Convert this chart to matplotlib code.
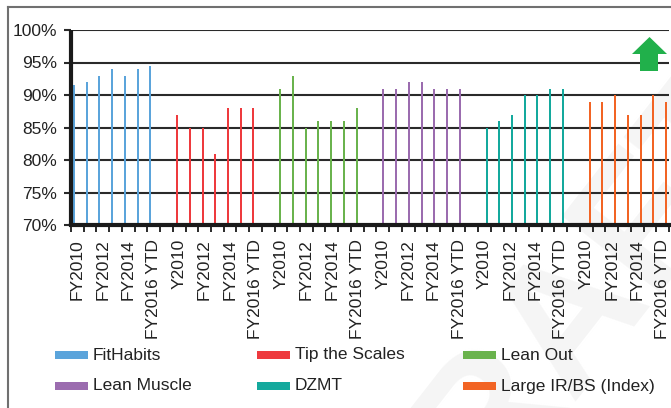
import matplotlib
matplotlib.use("Agg")
import matplotlib.pyplot as plt
from matplotlib import font_manager
from matplotlib.patches import Rectangle, Polygon
from matplotlib.lines import Line2D
import numpy as np

# ---------------- data ----------------
series_names = ["FitHabits", "Tip the Scales", "Lean Out", "Lean Muscle", "DZMT", "Large IR/BS (Index)"]
series_colors = ["#5BA4DB", "#EE3A3E", "#6AB34D", "#9B6CAF", "#14A99D", "#F26424"]
years_first = ["FY2010", "FY2011", "FY2012", "FY2013", "FY2014", "FY2015", "FY2016 YTD"]
years_other = ["Y2010", "FY2011", "FY2012", "FY2013", "FY2014", "FY2015", "FY2016 YTD"]

fithabits = [91.5, 92, 93, 94, 93, 94, 94.5]
tip_the_scales = [87, 85, 85, 81, 88, 88, 88]
lean_out = [91, 93, 85, 86, 86, 86, 88]
lean_muscle = [91, 91, 92, 92, 91, 91, 91]
dzmt = [85, 86, 87, 90, 90, 91, 91]
large_irbs = [89, 89, 90, 87, 87, 90, 89]
series_values = [fithabits, tip_the_scales, lean_out, lean_muscle, dzmt, large_irbs]

y_ticks = [70, 75, 80, 85, 90, 95, 100]

# ---------------- font ----------------
avail = {f.name for f in font_manager.fontManager.ttflist}
fam = "Liberation Sans Narrow" if "Liberation Sans Narrow" in avail else "Liberation Sans"
plt.rcParams["font.family"] = [fam, "DejaVu Sans"]
FS = 12.5 if fam == "Liberation Sans" else 14.5
TXT = "#222222"

W, H = 671, 408
fig = plt.figure(figsize=(W / 100, H / 100), dpi=100)
fig.patch.set_facecolor("white")

def fx(px):
    return px / W

def fy(py):
    return 1 - py / H

ax = fig.add_axes([fx(71), fy(225), fx(669) - fx(71), fy(30) - fy(225)])
ax.patch.set_alpha(0)
ax.set_zorder(2)

# faint watermark behind everything
fig.text(fx(560), fy(330), "DRAFT", rotation=52, fontsize=130, color="#f5f5f5",
         ha="center", va="center", zorder=-5, fontweight="bold")

# category layout
tick_labels = []
group_len = len(years_first)
n_groups = len(series_names)
for g in range(n_groups):
    tick_labels += years_first if g == 0 else years_other
    if g < n_groups - 1:
        tick_labels.append("")
n_cat = len(tick_labels)

bw = 0.155
for s, (vals, col) in enumerate(zip(series_values, series_colors)):
    start = s * (group_len + 1)
    offset = 0.5 + (s - 2.5) * 0.105
    xs = np.arange(start, start + len(vals)) + offset
    ax.bar(xs, np.array(vals) - 70, bottom=70, width=bw, color=col, zorder=3, linewidth=0)

ax.set_xlim(0, n_cat)
ax.set_ylim(70, 100)

ax.set_yticks(y_ticks)
ax.set_yticklabels([f"{v}%" for v in y_ticks], fontsize=FS, color=TXT)
ax.yaxis.grid(True, color="#2a2a2a", linewidth=1.5, zorder=1)
ax.tick_params(axis="y", direction="out", length=5, width=1.5, color="#2a2a2a", pad=5)

ax.set_xticks(np.arange(0, n_cat + 1))
ax.set_xticklabels([])
ax.tick_params(axis="x", which="major", direction="out", length=5, width=1.4, color="#2a2a2a")
ax.set_xticks(np.arange(0, n_cat, 2) + 0.5, minor=True)
ax.set_xticklabels(tick_labels[::2], minor=True, rotation=90, fontsize=FS, color=TXT,
                   va="top", ha="center")
ax.tick_params(axis="x", which="minor", length=0, pad=10)

for side in ["top", "right"]:
    ax.spines[side].set_visible(False)
for side in ["left", "bottom"]:
    ax.spines[side].set_linewidth(3)
    ax.spines[side].set_color("#1a1a1a")
    ax.spines[side].set_zorder(4)
ax.spines["left"].set_capstyle("butt")

# legend (manual, row-wise)
col_x = [55, 257, 463]
row_y = [355, 386]
for i, (name, col) in enumerate(zip(series_names, series_colors)):
    r, c = divmod(i, 3)
    x0 = col_x[c]
    yc = row_y[r]
    fig.patches.append(Rectangle((fx(x0), fy(yc + 4)), fx(33), 8 / H, transform=fig.transFigure,
                                 facecolor=col, edgecolor="none"))
    fig.text(fx(x0 + 38), fy(yc), name, fontsize=FS, color=TXT, ha="left", va="center")

# green arrow
arrow_px = [(649.5, 37), (667, 54), (658, 54), (658, 71), (640, 71), (640, 54), (632, 54)]
fig.patches.append(Polygon([(fx(x), fy(y)) for x, y in arrow_px], closed=True,
                           transform=fig.transFigure, facecolor="#21B04B", edgecolor="none",
                           zorder=5))

# figure frame (top and left visible)
fig.lines.append(Line2D([fx(8), fx(8)], [fy(7), 0], transform=fig.transFigure, color="#707070", linewidth=1.5))
fig.lines.append(Line2D([fx(8), 1], [fy(7), fy(7)], transform=fig.transFigure, color="#707070", linewidth=1.5))

fig.savefig("out.png", dpi=100, facecolor="white")
